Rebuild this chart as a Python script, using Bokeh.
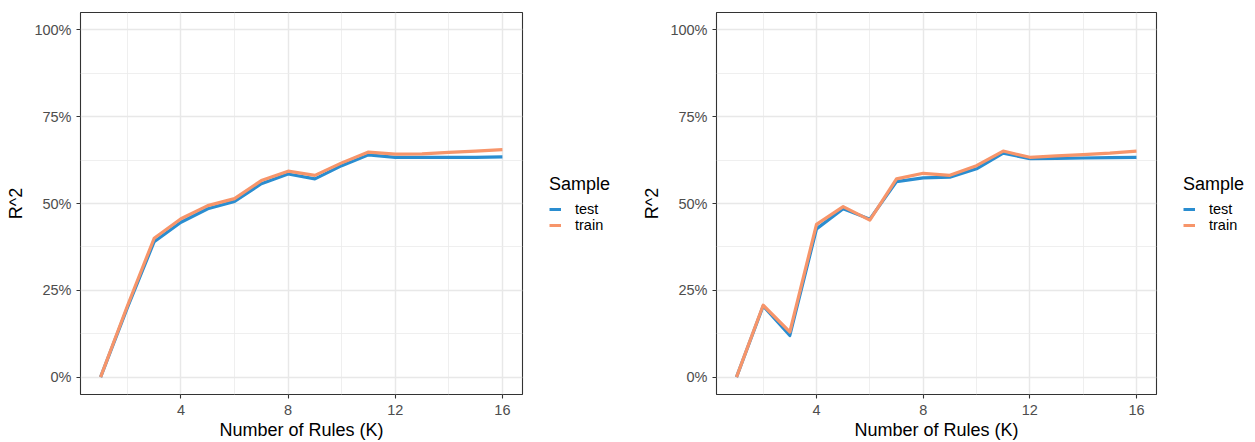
from bokeh.plotting import figure
from bokeh.layouts import row
from bokeh.models import (Range1d, FixedTicker, NumeralTickFormatter, Legend, LegendItem)
from bokeh.embed import file_html
from bokeh.resources import INLINE

# Number of rules K
rules_k = list(range(1, 17))

# R^2 by number of rules, first model
left_test = [0.000, 0.200, 0.390, 0.446, 0.485, 0.506, 0.557, 0.585,
             0.571, 0.609, 0.640, 0.633, 0.633, 0.633, 0.633, 0.634]
left_train = [0.000, 0.205, 0.400, 0.456, 0.494, 0.514, 0.566, 0.593,
              0.581, 0.617, 0.648, 0.642, 0.643, 0.647, 0.651, 0.655]

# R^2 by number of rules, second model
right_test = [0.000, 0.205, 0.120, 0.427, 0.485, 0.455, 0.563, 0.574,
              0.576, 0.600, 0.645, 0.629, 0.630, 0.631, 0.632, 0.633]
right_train = [0.000, 0.207, 0.130, 0.440, 0.491, 0.452, 0.571, 0.587,
               0.581, 0.609, 0.651, 0.633, 0.637, 0.641, 0.645, 0.651]

x_ticks = [4, 8, 12, 16]
x_minor = [2, 6, 10, 14]
y_ticks = [0.0, 0.25, 0.5, 0.75, 1.0]
y_minor = [0.125, 0.375, 0.625, 0.875]

series_names = ["test", "train"]
series_colors = ["#2A8DD0", "#F7956A"]

FONT = "Liberation Sans"
TOP, BOTTOM = 12, 48


def panel(test, train, width, border_left):
    p = figure(width=width, height=442, output_backend="svg", toolbar_location=None,
               x_range=Range1d(0.25, 16.75), y_range=Range1d(-0.05, 1.05),
               min_border_left=border_left, min_border_right=2,
               min_border_top=TOP, min_border_bottom=BOTTOM)
    p.background_fill_color = "white"
    p.border_fill_color = "white"
    p.outline_line_color = "#333333"
    p.outline_line_width = 1.1

    p.xaxis.ticker = FixedTicker(ticks=x_ticks, minor_ticks=x_minor)
    p.yaxis.ticker = FixedTicker(ticks=y_ticks, minor_ticks=y_minor)
    p.yaxis.formatter = NumeralTickFormatter(format="0%")

    for ax in (p.xaxis[0], p.yaxis[0]):
        ax.axis_line_color = None
        ax.major_tick_line_color = "#333333"
        ax.major_tick_line_width = 1.1
        ax.major_tick_in = 0
        ax.major_tick_out = 4
        ax.minor_tick_line_color = None
        ax.major_label_text_font = FONT
        ax.major_label_text_font_size = "14.5px"
        ax.major_label_text_color = "#4D4D4D"
        ax.axis_label_text_font = FONT
        ax.axis_label_text_font_size = "18px"
        ax.axis_label_text_font_style = "normal"
        ax.axis_label_text_color = "#000000"

    p.xaxis.axis_label = "Number of Rules (K)"
    p.yaxis.axis_label = "R^2"
    p.xaxis.major_label_standoff = 6
    p.xaxis.axis_label_standoff = 2
    p.yaxis.major_label_standoff = 5
    p.yaxis.axis_label_standoff = 5

    for g in (p.xgrid[0], p.ygrid[0]):
        g.grid_line_color = "#E8E8E8"
        g.grid_line_width = 1.5
        g.minor_grid_line_color = "#EBEBEB"
        g.minor_grid_line_width = 0.8

    for vals, color in zip((test, train), series_colors):
        p.line(rules_k, vals, line_color=color, line_width=3.2, line_join="round")
    return p


def legend_panel(width, test, train):
    # a bare figure that only carries the "Sample" legend beside a panel;
    # its ranges keep the series themselves out of view, only the key shows
    p = figure(width=width, height=442, output_backend="svg", toolbar_location=None,
               x_range=Range1d(100, 101), y_range=Range1d(100, 101),
               min_border_left=0, min_border_right=0,
               min_border_top=TOP, min_border_bottom=BOTTOM)
    p.axis.visible = False
    p.grid.visible = False
    p.outline_line_color = None
    p.background_fill_color = "white"
    p.border_fill_color = "white"
    items = []
    for vals, name, color in zip((test, train), series_names, series_colors):
        r = p.line(rules_k, vals, line_color=color, line_width=3)
        items.append(LegendItem(label=name, renderers=[r]))
    legend = Legend(items=items, title="Sample", location="center_left",
                    orientation="vertical")
    legend.title_text_font = FONT
    legend.title_text_font_size = "18px"
    legend.title_text_font_style = "normal"
    legend.title_text_color = "#000000"
    legend.title_standoff = 6
    legend.label_text_font = FONT
    legend.label_text_font_size = "14.5px"
    legend.label_text_color = "#000000"
    legend.label_standoff = 14
    legend.glyph_width = 12
    legend.glyph_height = 11
    legend.label_height = 11
    legend.spacing = 0
    legend.margin = 25
    legend.padding = 10
    legend.border_line_color = None
    legend.background_fill_alpha = 0
    p.add_layout(legend, "center")
    return p


left = panel(left_test, left_train, 524, 80)
left_key = legend_panel(103, left_test, left_train)
right = panel(right_test, right_train, 531, 89)
right_key = legend_panel(97, right_test, right_train)

layout = row(left, left_key, right, right_key, spacing=0)

open("out.html", "w").write(file_html(layout, INLINE))
